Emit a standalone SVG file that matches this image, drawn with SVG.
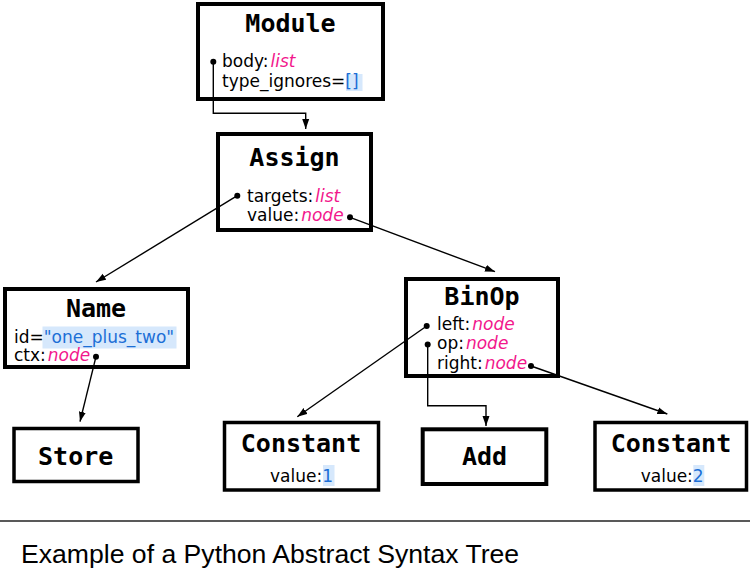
<svg xmlns="http://www.w3.org/2000/svg" width="750" height="586" viewBox="0 0 750 586">
<style>
.box{fill:#fff;stroke:#000;stroke-width:4}
.box2{fill:#fff;stroke:#000;stroke-width:3.5}
.title{font-family:"DejaVu Sans Mono",monospace;font-weight:bold;font-size:25px;text-anchor:middle;fill:#000}
.f{font-family:"DejaVu Sans",sans-serif;font-size:17px;fill:#000}
.t{font-style:italic;fill:#f2178c}
.v{fill:#1c6fd6}
.hl{fill:#d6e8fc}
.dot{fill:#000}
.edge{fill:none;stroke:#000;stroke-width:1.4}
.cap{font-family:"Liberation Sans",Arial,sans-serif;font-size:26.6px;fill:#000}
</style>
<defs>
<marker id="arr" markerUnits="userSpaceOnUse" markerWidth="11" markerHeight="8" refX="10" refY="4" orient="auto">
<path d="M0,0.5 L10,4 L0,7.5 z" fill="#000"/>
</marker>
</defs>
<rect width="750" height="586" fill="#fff"/>

<g id="module">
<rect class="box" x="198" y="4" width="185" height="95"/>
<text class="title" x="290.5" y="32">Module</text>
<rect class="hl" x="346" y="74" width="16.5" height="17"/>
<text class="f" x="222" y="67">body:<tspan class="t" dx="2">list</tspan></text>
<text class="f" x="222" y="87">type_ignores=<tspan class="v">[]</tspan></text>
</g>

<g id="assign">
<rect class="box" x="218" y="134" width="153" height="96"/>
<text class="title" x="294.5" y="166">Assign</text>
<text class="f" x="247" y="201.5">targets:<tspan class="t" dx="2">list</tspan></text>
<text class="f" x="247" y="221">value:<tspan class="t" dx="2">node</tspan></text>
</g>

<g id="name">
<rect class="box" x="5" y="289" width="183" height="78"/>
<text class="title" x="96" y="317">Name</text>
<rect class="hl" x="42.5" y="326.5" width="134" height="22"/>
<text class="f" x="14" y="343">id=<tspan class="v">"one_plus_two"</tspan></text>
<text class="f" x="14" y="361">ctx:<tspan class="t" dx="2">node</tspan></text>
</g>

<g id="binop">
<rect class="box" x="406" y="279" width="152" height="97"/>
<text class="title" x="482" y="305">BinOp</text>
<text class="f" x="437" y="330">left:<tspan class="t" dx="2">node</tspan></text>
<text class="f" x="437" y="349">op:<tspan class="t" dx="2">node</tspan></text>
<text class="f" x="437" y="368.5">right:<tspan class="t" dx="2">node</tspan></text>
</g>

<g id="store">
<rect class="box2" x="14" y="428.5" width="124" height="53"/>
<text class="title" x="75.7" y="465">Store</text>
</g>

<g id="constant1">
<rect class="box2" x="224.5" y="422.5" width="154" height="67.5"/>
<text class="title" x="301" y="452">Constant</text>
<rect class="hl" x="323" y="465" width="11.5" height="21"/>
<text class="f" x="270" y="481.7">value:<tspan class="v">1</tspan></text>
</g>

<g id="add">
<rect class="box" x="422.7" y="429.3" width="123.6" height="54.7"/>
<text class="title" x="484.5" y="465">Add</text>
</g>

<g id="constant2">
<rect class="box2" x="595" y="422.5" width="151.5" height="67.5"/>
<text class="title" x="671" y="452">Constant</text>
<rect class="hl" x="693.3" y="465" width="11" height="21"/>
<text class="f" x="640.7" y="481.7">value:<tspan class="v">2</tspan></text>
</g>

<g id="connectors">
<path class="edge" d="M213.3,61.7 V113.3 H305.7 V129" marker-end="url(#arr)"/>
<path class="edge" d="M237.3,195.7 L96,282" marker-end="url(#arr)"/>
<path class="edge" d="M350,217.3 L495,271.7" marker-end="url(#arr)"/>
<path class="edge" d="M96,356.7 L80,421.7" marker-end="url(#arr)"/>
<path class="edge" d="M426.7,326 L297.3,416.7" marker-end="url(#arr)"/>
<path class="edge" d="M427.7,344.5 V405.7 H486 V426" marker-end="url(#arr)"/>
<path class="edge" d="M531,366 L667.3,414" marker-end="url(#arr)"/>
<circle class="dot" cx="213.3" cy="61.7" r="3"/>
<circle class="dot" cx="237.3" cy="195.7" r="3"/>
<circle class="dot" cx="350" cy="217.3" r="3"/>
<circle class="dot" cx="96" cy="356.7" r="3"/>
<circle class="dot" cx="426.7" cy="326" r="3"/>
<circle class="dot" cx="427.7" cy="344.5" r="3"/>
<circle class="dot" cx="531" cy="366" r="3"/>
</g>

<line x1="0" y1="521" x2="750" y2="521" stroke="#222" stroke-width="1.5"/>
<text class="cap" x="21" y="563">Example of a Python Abstract Syntax Tree</text>
</svg>
